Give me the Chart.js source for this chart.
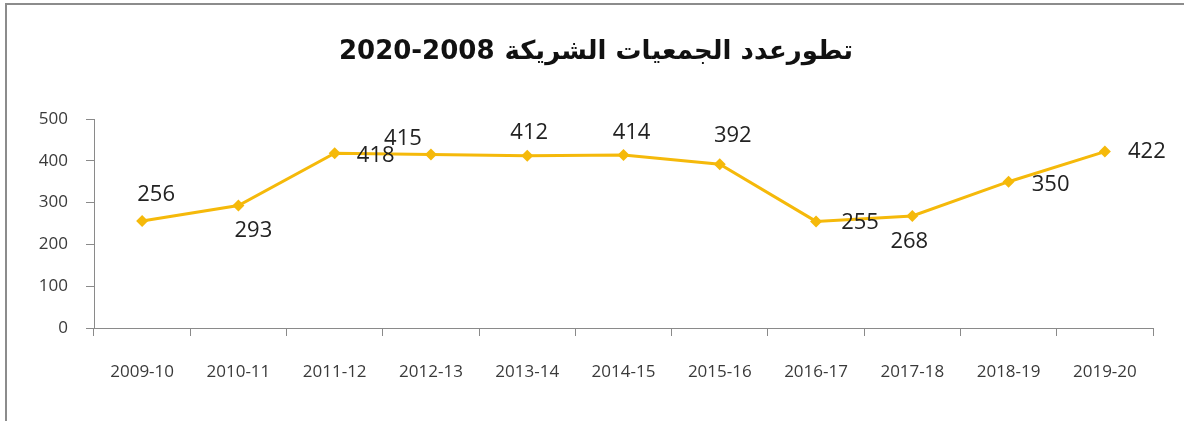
<!DOCTYPE html>
<html>
<head>
<meta charset="utf-8">
<script src="https://cdn.jsdelivr.net/npm/chart.js@4/dist/chart.umd.min.js"></script>
<style>
  html, body { margin: 0; padding: 0; background: #fff; }
  #wrap { position: relative; width: 1184px; height: 421px; overflow: hidden; }
  #frame { position: absolute; left: 5px; top: 3px; width: 1300px; height: 600px;
           border-top: 2px solid #8c8c8c; border-left: 2px solid #8c8c8c; box-sizing: border-box; }
  canvas { position: absolute; left: 0; top: 0; }
</style>
</head>
<body>
<div id="wrap">
  <div id="frame"></div>
  <canvas id="c" width="1184" height="421"></canvas>
</div>
<script>
const titleWords = "تطورعدد الجمعيات الشريكة";
const titleYears = "2020-2008";
const categories = ["2009-10","2010-11","2011-12","2012-13","2013-14","2014-15","2015-16","2016-17","2017-18","2018-19","2019-20"];
const associations = [256, 293, 418, 415, 412, 414, 392, 255, 268, 350, 422];
const yTicks = [0, 100, 200, 300, 400, 500];

const labelPlugin = {
  id: 'pointLabels',
  afterDatasetsDraw(chart, args, opts) {
    const ctx = chart.ctx;
    const meta = chart.getDatasetMeta(0);
    const data = chart.data.datasets[0].data;
    ctx.save();
    ctx.font = opts.font;
    ctx.fillStyle = opts.color;
    ctx.textAlign = 'center';
    ctx.textBaseline = 'middle';
    meta.data.forEach((pt, i) => {
      const off = opts.offsets[i] || [0, -20];
      ctx.fillText(String(data[i]), pt.x + off[0], pt.y + off[1]);
    });
    ctx.restore();
  }
};

const titlePlugin = {
  id: 'arTitle',
  afterDraw(chart, args, opts) {
    const ctx = chart.ctx;
    ctx.save();
    ctx.font = opts.font;
    ctx.fillStyle = opts.color;
    ctx.textBaseline = 'middle';
    const gap = 10;
    ctx.direction = 'ltr';
    const wYears = ctx.measureText(opts.years).width;
    ctx.direction = 'rtl';
    const wWords = ctx.measureText(opts.words).width;
    const total = wYears + gap + wWords;
    const left = opts.x - total / 2;
    ctx.direction = 'ltr';
    ctx.textAlign = 'left';
    ctx.fillText(opts.years, left, opts.y);
    ctx.direction = 'rtl';
    ctx.textAlign = 'right';
    ctx.fillText(opts.words, left + total, opts.y);
    ctx.restore();
  }
};

new Chart(document.getElementById('c'), {
  type: 'line',
  data: {
    labels: categories,
    datasets: [{
      data: associations,
      borderColor: '#F5B90A',
      backgroundColor: '#F5B90A',
      borderWidth: 3,
      pointStyle: 'rectRot',
      pointRadius: 6,
      pointBorderWidth: 0,
      pointBackgroundColor: '#F5B90A',
      tension: 0,
      fill: false
    }]
  },
  plugins: [labelPlugin, titlePlugin],
  options: {
    responsive: false,
    animation: false,
    devicePixelRatio: 1,
    layout: { padding: { left: 0, right: 31, top: 119, bottom: 0 } },
    plugins: {
      legend: { display: false },
      title: { display: false },
      tooltip: { enabled: false },
      pointLabels: {
        font: '22px "Open Sans", sans-serif',
        color: '#222',
        offsets: [[14,-26],[15,25],[41,2],[-28,-16],[2,-23],[8,-22],[13,-28],[44,1],[-3,26],[42,3],[42,0]]
      },
      arTitle: {
        words: titleWords,
        years: titleYears,
        font: 'bold 26px "DejaVu Sans", sans-serif',
        color: '#111',
        x: 596, y: 52
      }
    },
    scales: {
      x: {
        offset: true,
        afterFit(s) { s.height = 93; },
        grid: { display: true, offset: true, drawOnChartArea: false, drawTicks: true, tickLength: 8, color: '#8a8a8a', lineWidth: 1 },
        border: { display: true, color: '#8a8a8a', width: 1 },
        ticks: { font: { family: '"Open Sans", sans-serif', size: 17 }, color: '#3a3a3a', padding: 26, maxRotation: 0, autoSkip: false }
      },
      y: {
        min: 0, max: 500,
        afterFit(s) { s.width = 94; },
        afterBuildTicks(s) { s.ticks = yTicks.map(v => ({ value: v })); },
        grid: { display: true, drawOnChartArea: false, drawTicks: true, tickLength: 8, color: '#8a8a8a', lineWidth: 1 },
        border: { display: true, color: '#8a8a8a', width: 1 },
        ticks: { font: { family: '"Open Sans", sans-serif', size: 17 }, color: '#3a3a3a', padding: 18 }
      }
    }
  }
});
</script>
</body>
</html>
